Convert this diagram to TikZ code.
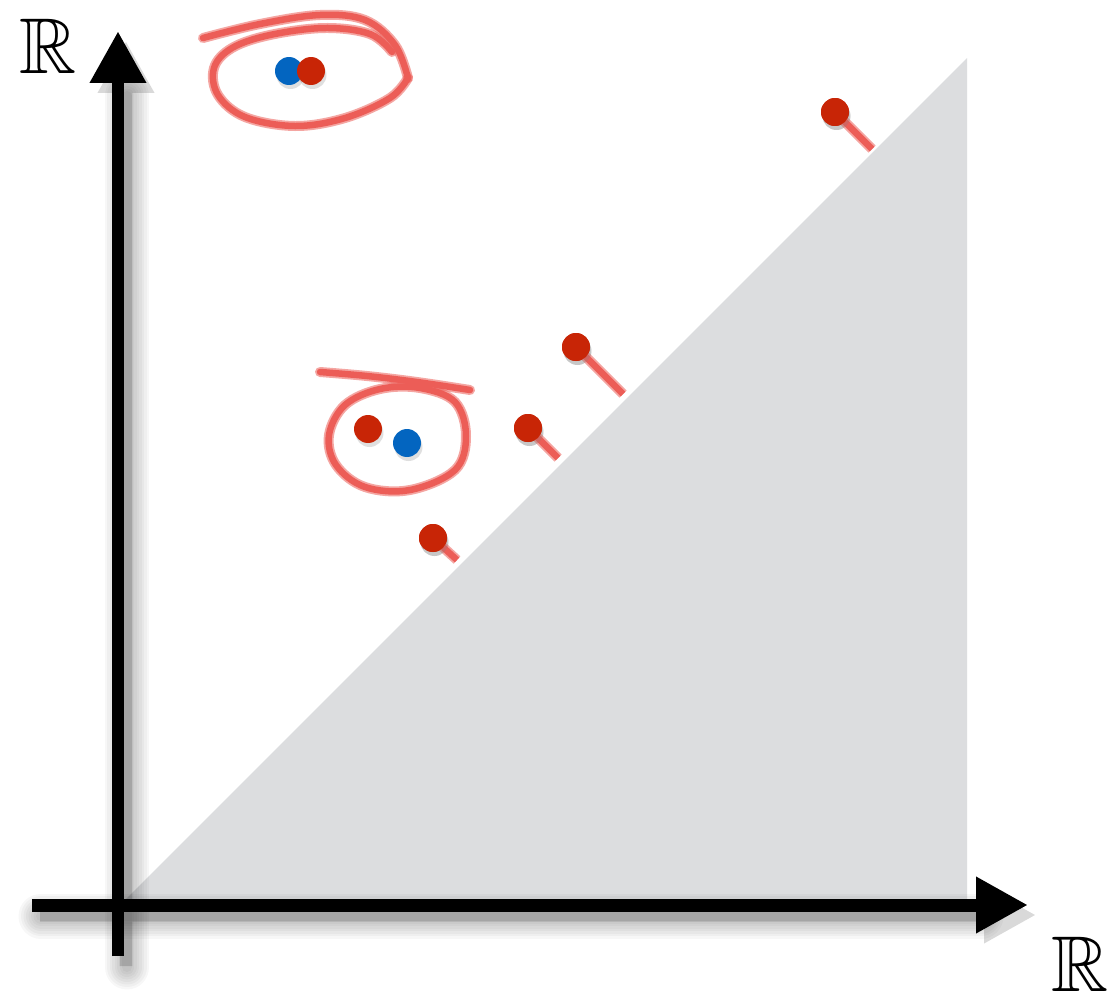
\documentclass[tikz,border=0pt]{standalone}
\usepackage{amssymb}
\usetikzlibrary{arrows.meta, shadows}

\definecolor{ptred}{RGB}{200,37,6}
\definecolor{ptblue}{RGB}{3,101,192}
\definecolor{scrib}{RGB}{236,93,87}
\definecolor{halfgray}{RGB}{220,221,223}

\begin{document}
\begin{tikzpicture}[
    x=0.02cm, y=-0.02cm,
    dot/.style={circle, inner sep=0pt, minimum size=0.56cm, drop shadow={shadow xshift=0.03cm, shadow yshift=-0.08cm, opacity=0.25}},
    reddot/.style={dot, fill=ptred},
    bluedot/.style={dot, fill=ptblue},
    axis/.style={line width=0.26cm, -{Triangle[width=1.06cm, length=1.04cm]}},
    axisblur/.style={line width=#1, black, opacity=0.03, line cap=round},
    scribble/.style={draw=scrib, line width=0.2cm, line cap=round, line join=round, opacity=0.55,
        postaction={draw=scrib, line width=0.13cm, opacity=1}},
    stub/.style={draw=scrib, line width=0.2cm, opacity=0.55,
        postaction={draw=scrib, line width=0.13cm, opacity=1}},
    rlabel/.style={inner sep=0pt}
]
    \useasboundingbox (0,0) rectangle (1107,994);
    \fill[white] (0,0) rectangle (1107,994);

    % the region above the diagonal
    \fill[halfgray] (120,905) -- (967,58) -- (967,905) -- cycle;

    \coordinate (ybot) at (118,956);
    \coordinate (ytip) at (118,31);
    \coordinate (xbeg) at (32,905);
    \coordinate (xtip) at (1028,905);

    % axis shadows
    \foreach \w in {0.2cm,0.3cm,0.4cm,0.5cm,0.6cm,0.7cm,0.8cm,0.9cm} {
        \draw[axisblur=\w] ([shift={(9,11)}]ybot) -- ([shift={(9,11)}]118,85);
        \draw[axisblur=\w] ([shift={(9,11)}]xbeg) -- ([shift={(9,11)}]972,905);
    }
    \begin{scope}[transparency group, opacity=0.15]
        \draw[axis, black] ([shift={(8,10)}]ybot) -- ([shift={(8,10)}]ytip);
        \draw[axis, black] ([shift={(8,10)}]xbeg) -- ([shift={(8,10)}]xtip);
    \end{scope}

    \draw[axis] (ybot) -- (ytip);
    \draw[axis] (xbeg) -- (xtip);

    \node[rlabel] (ylab) at (48,46) {\scalebox{4.5}{$\mathbb{R}$}};
    \node[rlabel] (xlab) at (1080,964) {\scalebox{4.5}{$\mathbb{R}$}};

    % scribbled loops
    \draw[scribble] plot[smooth, tension=0.6] coordinates {(203,38) (260,24) (320,15) (365,20) (395,45) (408,78)};
    \draw[scribble] plot[smooth, tension=0.6] coordinates {(408,78) (390,98) (345,118) (295,126) (245,117) (218,95) (214,68) (232,48) (270,35) (325,28) (370,34) (392,52)};
    \draw[scribble] plot[smooth, tension=0.6] coordinates {(320,372) (367,376) (417,382) (470,390)};
    \draw[scribble] plot[smooth cycle, tension=0.6] coordinates {(455,402) (466,436) (455,470) (410,490) (365,487) (336,465) (329,435) (345,405) (380,389) (420,388)};

    % points
    \coordinate (f1) at (872,149);
    \coordinate (f2) at (623,394);
    \coordinate (f3) at (558,458);
    \coordinate (f4) at (457,560);

    \node[reddot] (p1) at (835,112) {};
    \node[reddot] (p2) at (576,347) {};
    \node[reddot] (p3) at (528,428) {};
    \node[reddot] (p4) at (433,538) {};

    \draw[stub] (p1.center) -- (f1);
    \draw[stub] (p2.center) -- (f2);
    \draw[stub] (p3.center) -- (f3);
    \draw[stub] (p4.center) -- (f4);

    \node[reddot] at (p1) {};
    \node[reddot] at (p2) {};
    \node[reddot] at (p3) {};
    \node[reddot] at (p4) {};

    \node[bluedot] (b1) at (289,71) {};
    \node[reddot] (r1) at (311,71) {};
    \node[reddot] (r2) at (368,429) {};
    \node[bluedot] (b2) at (407,443) {};
\end{tikzpicture}
\end{document}
